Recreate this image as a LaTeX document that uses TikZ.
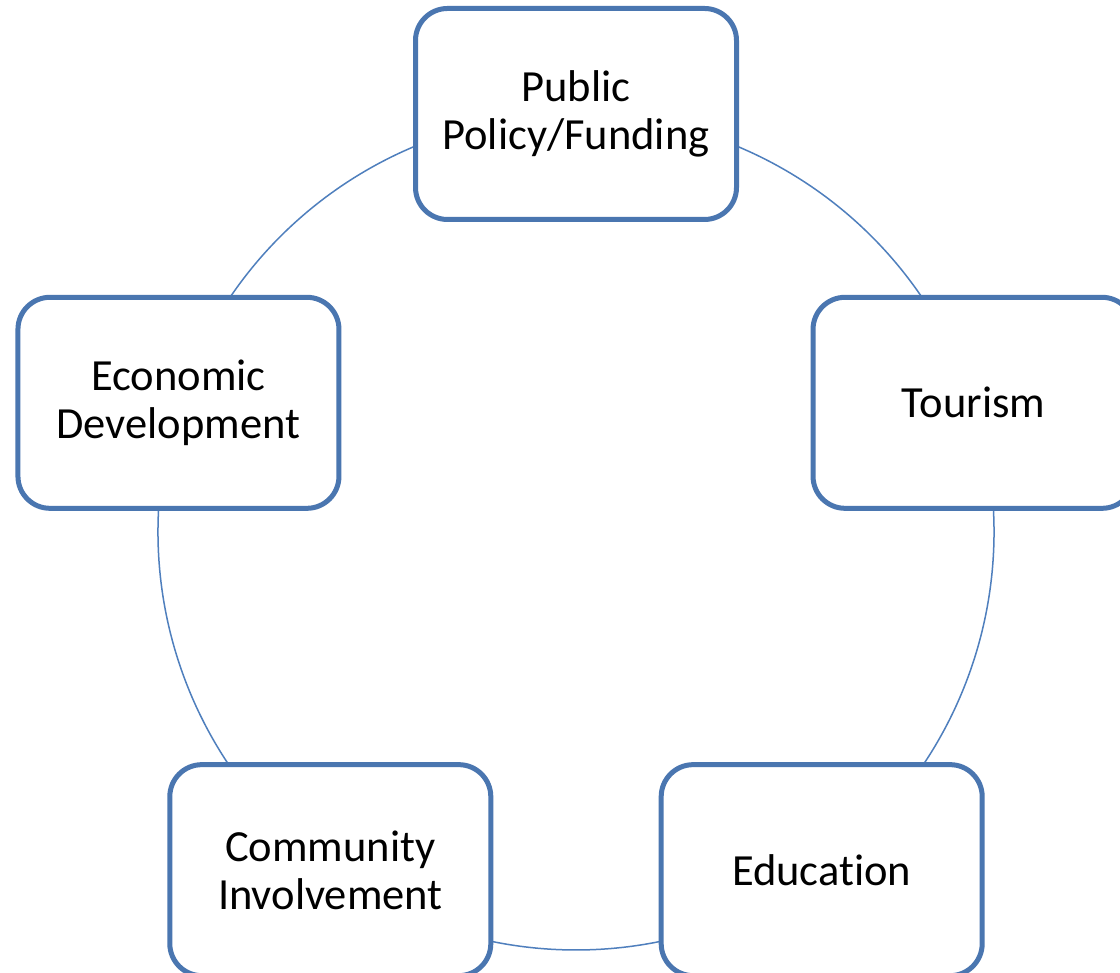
\documentclass[tikz,border=0pt]{standalone}
\usepackage{fontspec}
\setmainfont{Carlito}[Ligatures={NoCommon,NoContextual}]
\usetikzlibrary{backgrounds}
\definecolor{boxline}{RGB}{74,118,176}
\definecolor{ringline}{RGB}{79,127,189}
\begin{document}
\begin{tikzpicture}[x=1pt,y=1pt,
  cyclebox/.style={draw=boxline, line width=5pt, fill=white, rounded corners=32pt,
    minimum width=321pt, minimum height=211pt, inner sep=0pt, align=center,
    font=\fontsize{44.5}{48}\selectfont},
  ring/.style={draw=ringline, line width=1.5pt}]
  \useasboundingbox (0,0) rectangle (1120,973);
  \clip (0,0) rectangle (1120,973);
  \coordinate (c) at (576,441);
  % five stages placed evenly on a circle of radius 418pt
  \node[cyclebox] (pub) at ([shift={(90:418)}]c) {Public\\Policy/Funding};
  \node[cyclebox] (tour) at ([shift={(18:418)}]c) {Tourism};
  \node[cyclebox] (edu) at ([shift={(-54:418)}]c) {Education};
  \node[cyclebox] (comm) at ([shift={(-126:418)}]c) {Community\\Involvement};
  \node[cyclebox] (econ) at ([shift={(162:418)}]c) {Economic\\Development};
  % ring segments joining consecutive stages, behind the boxes
  \begin{scope}[on background layer]
    \fill[white] (0,0) rectangle (1120,973);
    \draw[ring] (pub.center) arc[start angle=90, end angle=18, radius=418];
    \draw[ring] (tour.center) arc[start angle=18, end angle=-54, radius=418];
    \draw[ring] (edu.center) arc[start angle=-54, end angle=-126, radius=418];
    \draw[ring] (comm.center) arc[start angle=-126, end angle=-198, radius=418];
    \draw[ring] (econ.center) arc[start angle=162, end angle=90, radius=418];
  \end{scope}
\end{tikzpicture}
\end{document}
